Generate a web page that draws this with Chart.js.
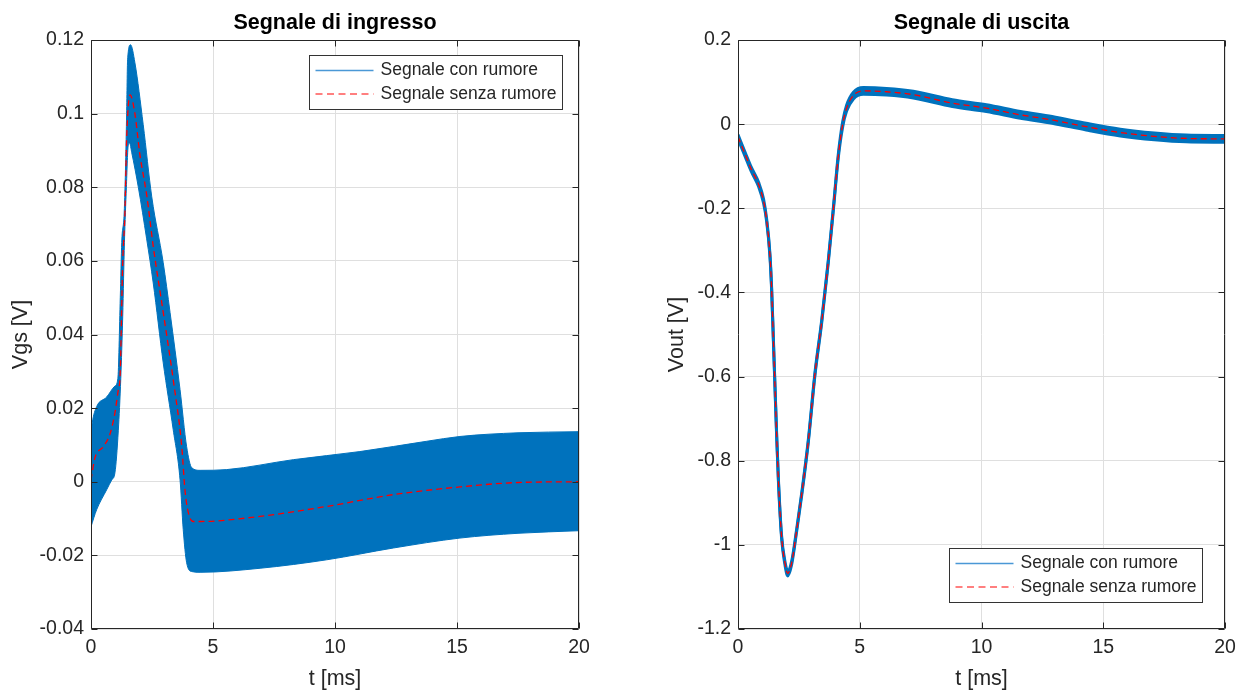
<!DOCTYPE html>
<html>
<head>
<meta charset="utf-8">
<script src="https://cdn.jsdelivr.net/npm/chart.js@4.4.0/dist/chart.umd.min.js"></script>
<style>
  body { margin: 0; background: #fff; width: 1243px; height: 691px; overflow: hidden; position: relative; }
  canvas { position: absolute; top: 0; }
  #cIn { left: 0; }
  #cOut { left: 650px; }
</style>
</head>
<body>
<canvas id="cIn" width="620" height="691"></canvas>
<canvas id="cOut" width="593" height="691"></canvas>
<script>
"use strict";

// ---- input signal (Vgs) ----
var tInUp = [0, 0.05, 0.23, 0.64, 0.98, 1.1, 1.2, 1.26, 1.36, 1.42, 1.46, 1.5, 1.62, 1.8, 2.14, 2.49, 2.96, 3.24, 3.65, 3.92, 4.13, 4.47, 5.56, 8.29, 11.02, 13.76, 15.12, 17.5, 20];
var vgsUp = [0.013, 0.016, 0.0204, 0.023, 0.026, 0.028, 0.05, 0.065, 0.073, 0.0867, 0.1, 0.1146, 0.1187, 0.1138, 0.097, 0.0774, 0.0595, 0.046, 0.025, 0.0095, 0.0038, 0.0031, 0.0033, 0.006, 0.0082, 0.011, 0.0123, 0.0133, 0.0136];

var tInLow = [0, 0.23, 0.64, 0.85, 0.98, 1.12, 1.22, 1.3, 1.37, 1.45, 1.52, 1.58, 1.67, 1.94, 2.28, 2.55, 2.96, 3.37, 3.65, 3.78, 3.92, 4.13, 4.47, 6.93, 9.66, 12.39, 15.12, 17.5, 20];
var vgsLow = [-0.0122, -0.0076, -0.0022, 0.0005, 0.0024, 0.014, 0.028, 0.045, 0.065, 0.08, 0.091, 0.092, 0.0894, 0.08, 0.066, 0.054, 0.0323, 0.0141, 0.0005, -0.013, -0.022, -0.0244, -0.0246, -0.0235, -0.0212, -0.018, -0.0153, -0.014, -0.0133];

var tInClean = [0, 0.16, 0.5, 0.78, 0.98, 1.12, 1.19, 1.3, 1.39, 1.46, 1.6, 1.8, 2.0, 2.28, 2.55, 2.96, 3.37, 3.72, 3.85, 3.99, 4.19, 4.47, 6.93, 9.66, 12.39, 15.12, 17.5, 20];
var vgsClean = [0.0005, 0.0065, 0.0095, 0.013, 0.0187, 0.025, 0.0285, 0.0595, 0.073, 0.093, 0.1051, 0.1, 0.089, 0.078, 0.064, 0.046, 0.0277, 0.0095, -0.0022, -0.0084, -0.0108, -0.0108, -0.0094, -0.0067, -0.0035, -0.0014, -0.0002, 0.0];

// ---- output signal (Vout) ----
var tOut = [0, 0.3, 0.55, 0.85, 1.05, 1.18, 1.31, 1.38, 1.45, 1.52, 1.59, 1.66, 1.79, 1.93, 2.04, 2.2, 2.41, 2.62, 2.89, 3.16, 3.44, 3.71, 3.92, 4.12, 4.3, 4.46, 4.74, 5.15, 6.1, 7.2, 8.8, 10.2, 11.6, 12.9, 14.3, 15.7, 17.1, 18.4, 20];
var voutClean = [-0.03, -0.073, -0.108, -0.144, -0.183, -0.23, -0.31, -0.39, -0.507, -0.626, -0.744, -0.847, -0.981, -1.044, -1.068, -1.044, -0.965, -0.878, -0.752, -0.594, -0.468, -0.325, -0.199, -0.075, 0.0, 0.038, 0.068, 0.079, 0.077, 0.07, 0.05, 0.038, 0.022, 0.01, -0.006, -0.02, -0.029, -0.034, -0.035];
var voutUp = [-0.025, -0.068, -0.103, -0.139, -0.178, -0.227, -0.307, -0.387, -0.504, -0.623, -0.741, -0.844, -0.978, -1.040, -1.062, -1.040, -0.962, -0.875, -0.749, -0.591, -0.465, -0.322, -0.196, -0.071, 0.006, 0.045, 0.076, 0.087, 0.085, 0.078, 0.058, 0.046, 0.030, 0.018, 0.002, -0.012, -0.021, -0.026, -0.027];
var voutLow = [-0.035, -0.078, -0.113, -0.149, -0.188, -0.233, -0.313, -0.393, -0.510, -0.629, -0.747, -0.850, -0.984, -1.048, -1.074, -1.048, -0.968, -0.881, -0.755, -0.597, -0.471, -0.328, -0.202, -0.079, -0.006, 0.031, 0.060, 0.071, 0.069, 0.062, 0.042, 0.030, 0.014, 0.002, -0.014, -0.028, -0.037, -0.042, -0.043];

var legendLabels = ["Segnale con rumore", "Segnale senza rumore"];

var FONT = '"Liberation Sans", Arial, Helvetica, sans-serif';
var AXC = "#262626";
var BLUE = "#0072BD";

function pts(t, v) {
    return t.map(function (x, i) { return {x: x, y: v[i]}; });
}

function tickFmt(v) {
    return String(+v.toFixed(3));
}

// box, inward ticks and the matlab-like legend
var framePlugin = {
    id: "frame",
    afterDraw: function (chart, args, opts) {
        var ctx = chart.ctx, a = chart.chartArea;
        var sx = chart.scales.x, sy = chart.scales.y;
        var L = Math.round(a.left) + 0.5, R = Math.round(a.right) - 0.5;
        var T = Math.round(a.top) + 0.5, B = Math.round(a.bottom) - 0.5;
        ctx.save();
        ctx.strokeStyle = AXC;
        ctx.lineWidth = 1;
        ctx.beginPath();
        ctx.rect(L, T, R - L, B - T);
        sx.ticks.forEach(function (t) {
            var p = Math.round(sx.getPixelForValue(t.value)) + 0.5;
            ctx.moveTo(p, B); ctx.lineTo(p, B - 6);
            ctx.moveTo(p, T); ctx.lineTo(p, T + 6);
        });
        sy.ticks.forEach(function (t) {
            var p = Math.round(sy.getPixelForValue(t.value)) + 0.5;
            ctx.moveTo(L, p); ctx.lineTo(L + 6, p);
            ctx.moveTo(R, p); ctx.lineTo(R - 6, p);
        });
        ctx.stroke();

        // legend
        ctx.font = "17.5px " + FONT;
        var tw = Math.max.apply(null, legendLabels.map(function (s) { return ctx.measureText(s).width; }));
        var w = Math.round(71 + tw + 6), h = 54;
        var bx = Math.round(a.right - opts.dx - w) + 0.5;
        var by = opts.corner === "ne" ? Math.round(a.top + opts.dy) + 0.5 : Math.round(a.bottom - opts.dy - h) + 0.5;
        ctx.fillStyle = "#fff";
        ctx.fillRect(bx, by, w, h);
        ctx.strokeStyle = "#333";
        ctx.strokeRect(bx, by, w, h);
        var rows = [by + 15, by + 38.5];
        ctx.lineWidth = 1.5;
        ctx.strokeStyle = "#4a98d6";
        ctx.beginPath();
        ctx.moveTo(bx + 6, rows[0]); ctx.lineTo(bx + 64, rows[0]);
        ctx.stroke();
        ctx.strokeStyle = "#ff0000";
        ctx.lineWidth = 1.2;
        ctx.setLineDash([7, 4.5]);
        ctx.beginPath();
        ctx.moveTo(bx + 6, rows[1]); ctx.lineTo(bx + 64, rows[1]);
        ctx.stroke();
        ctx.setLineDash([]);
        ctx.fillStyle = AXC;
        ctx.textBaseline = "middle";
        ctx.textAlign = "left";
        legendLabels.forEach(function (s, i) { ctx.fillText(s, bx + 71, rows[i]); });
        ctx.restore();
    }
};

function makeChart(id, cfg) {
    return new Chart(document.getElementById(id), {
        type: "line",
        data: {
            datasets: [{
                label: legendLabels[1],
                data: cfg.clean,
                borderColor: "#ff0000",
                borderWidth: 1.3,
                borderDash: [6, 4],
                fill: false,
                pointRadius: 0,
                cubicInterpolationMode: "monotone"
            }, {
                label: legendLabels[0],
                data: cfg.up,
                borderColor: BLUE,
                backgroundColor: BLUE,
                borderWidth: cfg.bw,
                fill: "+1",
                pointRadius: 0,
                cubicInterpolationMode: "monotone"
            }, {
                label: "lower",
                data: cfg.low,
                borderColor: BLUE,
                borderWidth: cfg.bw,
                fill: false,
                pointRadius: 0,
                cubicInterpolationMode: "monotone"
            }]
        },
        options: {
            responsive: false,
            animation: false,
            layout: {padding: {left: 0, right: cfg.padR, top: 0, bottom: 0}},
            plugins: {
                legend: {display: false},
                tooltip: {enabled: false},
                title: {
                    display: true,
                    fullSize: false,
                    text: cfg.title,
                    color: "#000",
                    font: {family: FONT, size: 21.5, weight: "bold", lineHeight: 1.2},
                    padding: {top: 10, bottom: 4.2}
                },
                frame: cfg.legend
            },
            scales: {
                x: {
                    type: "linear",
                    min: 0, max: 20,
                    ticks: {stepSize: 5, padding: 7, color: AXC, font: {family: FONT, size: 19.5}, callback: tickFmt},
                    grid: {color: "#dfdfdf", drawTicks: false},
                    border: {display: false},
                    title: {display: true, text: "t [ms]", color: AXC, font: {family: FONT, size: 21.5, lineHeight: 1}, padding: {top: 0, bottom: 1}},
                    afterFit: function (s) { s.height = 62; }
                },
                y: {
                    type: "linear",
                    min: cfg.ymin, max: cfg.ymax,
                    ticks: {stepSize: cfg.ystep, padding: 7, color: AXC, font: {family: FONT, size: 19.5}, callback: tickFmt},
                    grid: {color: "#dfdfdf", drawTicks: false},
                    border: {display: false},
                    title: {display: true, text: cfg.ytitle, color: AXC, font: {family: FONT, size: 21.5, lineHeight: 1}, padding: {top: cfg.ytPad, bottom: 0}},
                    afterFit: function (s) { s.width = cfg.yw; }
                }
            }
        },
        plugins: [framePlugin]
    });
}

makeChart("cIn", {
    title: "Segnale di ingresso",
    ytitle: "Vgs [V]",
    ymin: -0.04, ymax: 0.12, ystep: 0.02,
    yw: 91, padR: 41, ytPad: 10, bw: 1,
    clean: pts(tInClean, vgsClean),
    up: pts(tInUp, vgsUp),
    low: pts(tInLow, vgsLow),
    legend: {corner: "ne", dx: 17, dy: 15}
});

makeChart("cOut", {
    title: "Segnale di uscita",
    ytitle: "Vout [V]",
    ymin: -1.2, ymax: 0.2, ystep: 0.2,
    yw: 88, padR: 18, ytPad: 16, bw: 3,
    clean: pts(tOut, voutClean),
    up: pts(tOut, voutUp),
    low: pts(tOut, voutLow),
    legend: {corner: "se", dx: 23, dy: 27}
});
</script>
</body>
</html>
